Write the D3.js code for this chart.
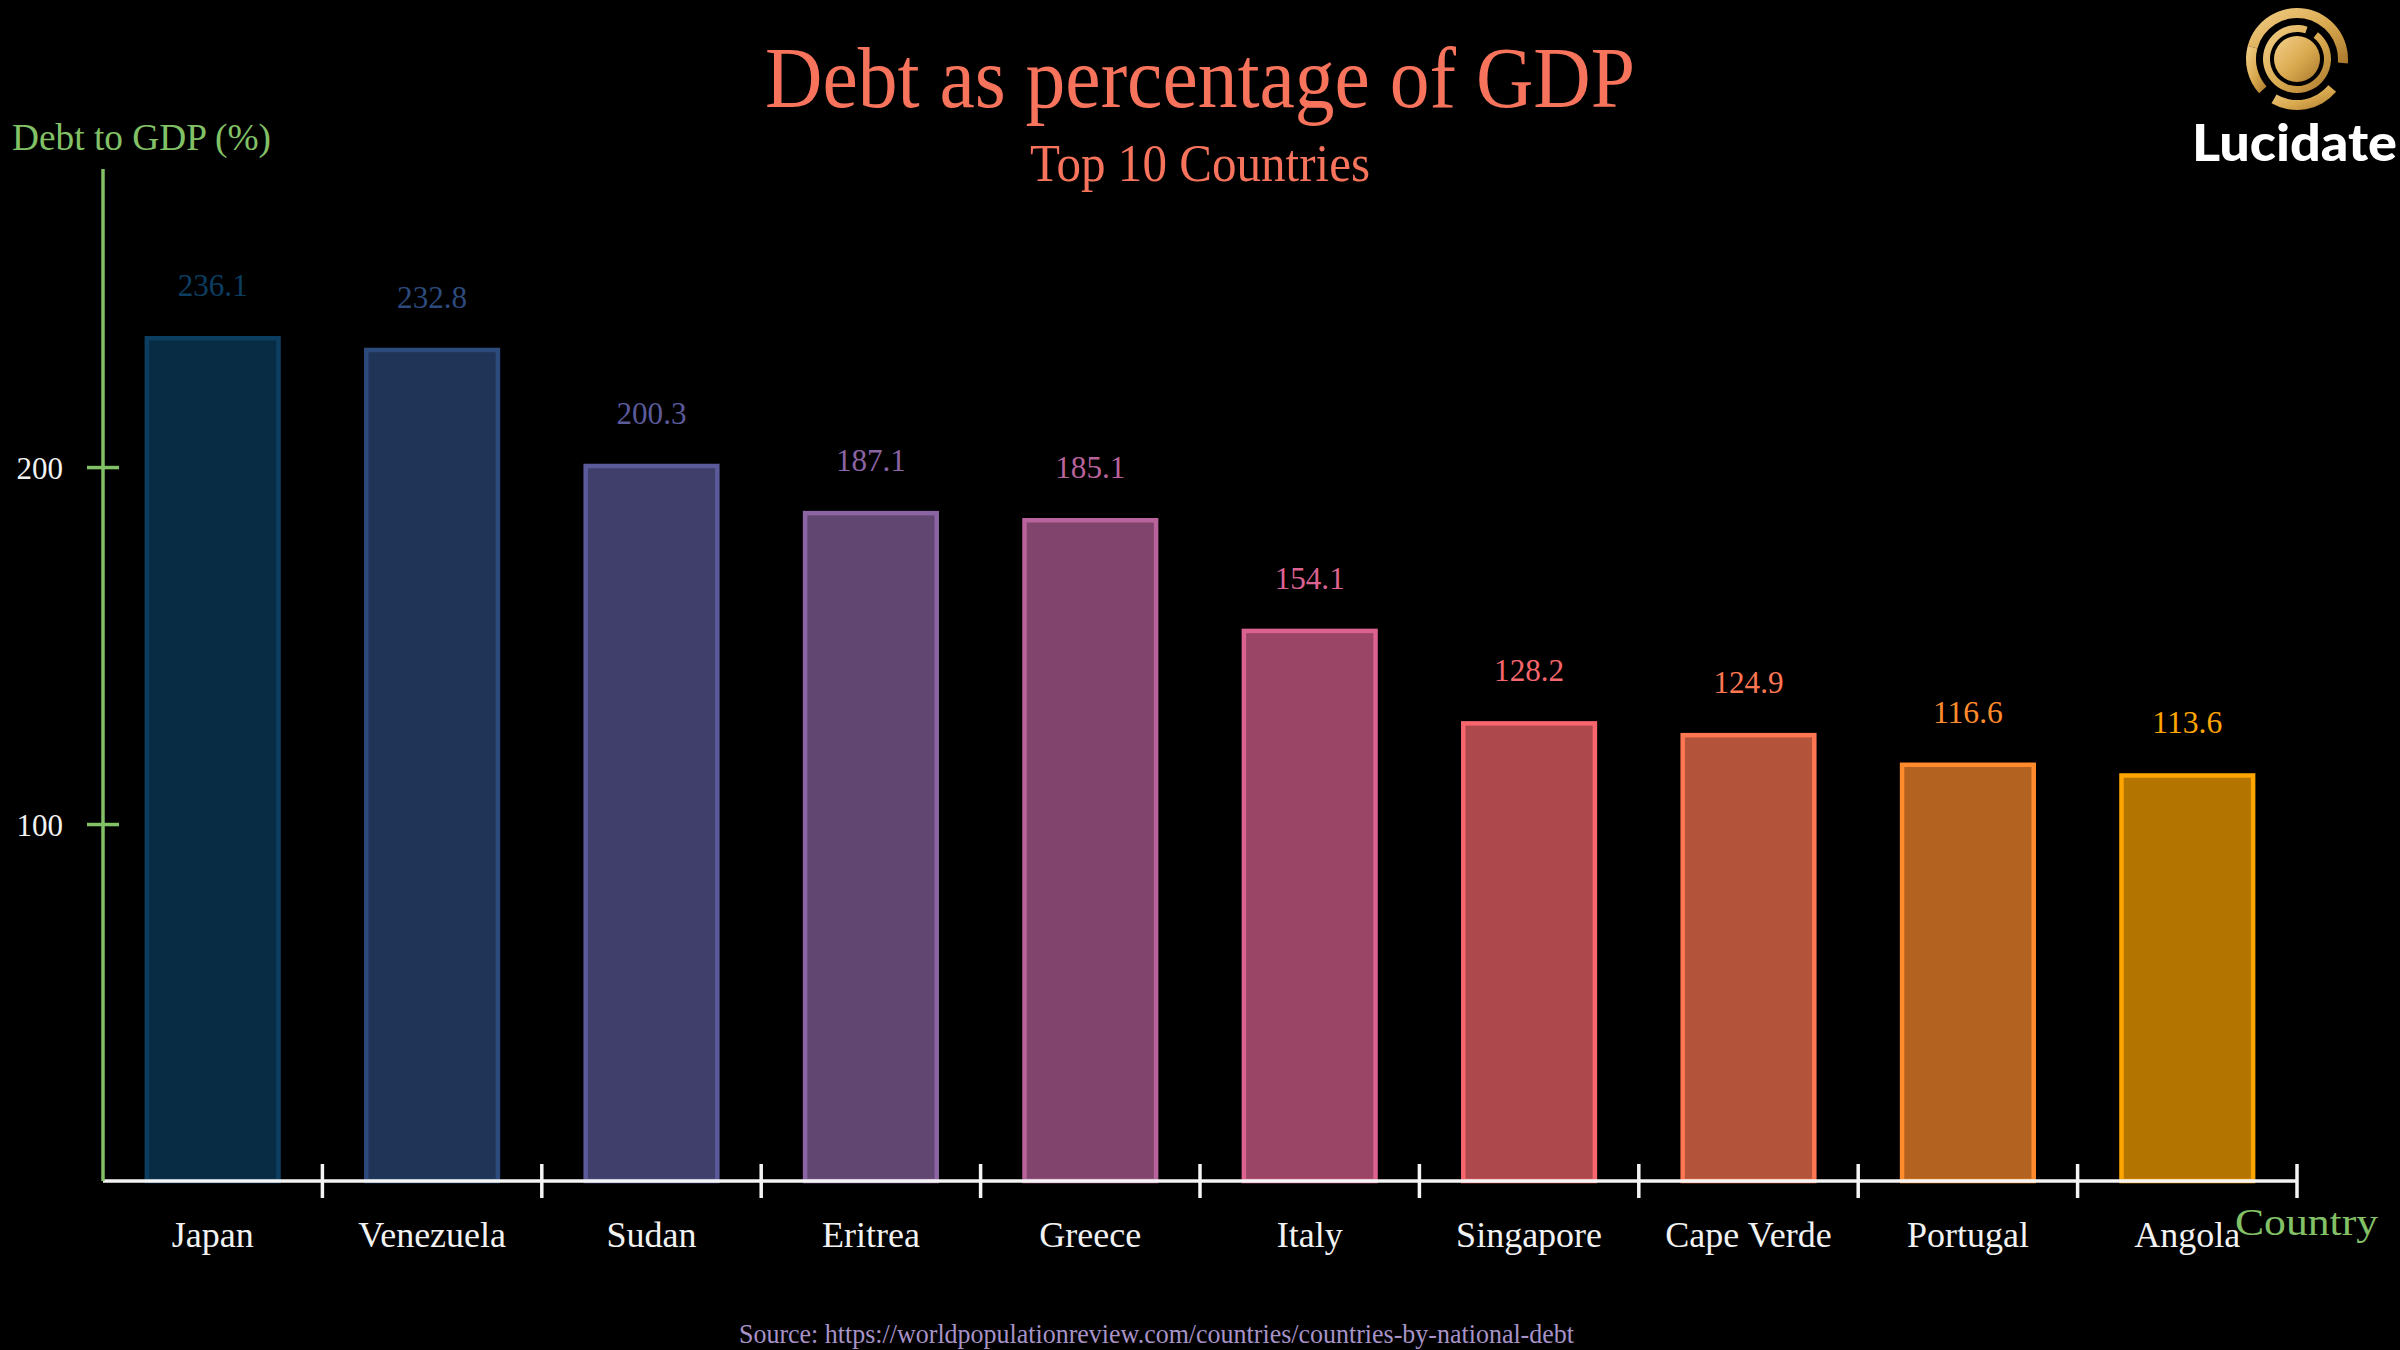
<!DOCTYPE html>
<html>
<head>
<meta charset="utf-8">
<script src="https://cdn.jsdelivr.net/npm/d3@7"></script>
<style>
  html, body { margin: 0; padding: 0; background: #000; }
  svg { display: block; }
  text { font-family: "Liberation Serif", "DejaVu Serif", serif; }
  text.brand { font-family: Lato, "Open Sans", sans-serif; font-weight: 900; }
</style>
</head>
<body>
<div id="chart"></div>
<script>
const countries = ['Japan', 'Venezuela', 'Sudan', 'Eritrea', 'Greece', 'Italy', 'Singapore', 'Cape Verde', 'Portugal', 'Angola'];
const debtPct = [236.1, 232.8, 200.3, 187.1, 185.1, 154.1, 128.2, 124.9, 116.6, 113.6];
const barColors = ['#0b3e61', '#2d4a7c', '#5b5a9a', '#8b64a3', '#b8639b', '#dc6290', '#f7666c', '#ff7653', '#ff8b2c', '#ffa500'];
const yTickValues = [100, 200];

const width = 2400;
const height = 1350;

const usableArea = { left: 103, right: 2297, top: 169, bottom: 1181 };

function drawChart() {
    const data = countries.map((c, i) => ({ country: c, value: debtPct[i], color: barColors[i] }));

    const svg = d3.select('#chart')
        .append('svg')
        .attr('width', width)
        .attr('height', height)
        .attr('viewBox', `0 0 ${width} ${height}`);

    svg.append('rect').attr('width', width).attr('height', height).attr('fill', '#000');

    const xScale = d3.scaleBand()
        .domain(countries)
        .range([usableArea.left, usableArea.right])
        .paddingInner(0.4)
        .paddingOuter(0.2);

    const yScale = d3.scaleLinear()
        .domain([0, 283.5])
        .range([usableArea.bottom, usableArea.top]);

    // bars
    svg.append('g')
        .attr('class', 'bars')
        .selectAll('rect')
        .data(data)
        .join('rect')
        .attr('x', d => xScale(d.country))
        .attr('y', d => yScale(d.value))
        .attr('width', xScale.bandwidth())
        .attr('height', d => yScale(0) - yScale(d.value))
        .attr('fill', d => d.color)
        .attr('fill-opacity', 0.7)
        .attr('stroke', d => d.color)
        .attr('stroke-width', 4.5);

    // value labels
    svg.append('g')
        .attr('class', 'values')
        .selectAll('text')
        .data(data)
        .join('text')
        .attr('x', d => xScale(d.country) + xScale.bandwidth() / 2)
        .attr('y', d => yScale(d.value) - 42)
        .attr('text-anchor', 'middle')
        .attr('font-size', 31)
        .attr('textLength', 70)
        .attr('lengthAdjust', 'spacingAndGlyphs')
        .attr('fill', d => d.color)
        .text(d => d.value.toFixed(1));

    // x axis: labels from the band scale, ticks at band boundaries
    const xAxis = svg.append('g')
        .attr('transform', `translate(0, ${usableArea.bottom})`)
        .call(d3.axisBottom(xScale).tickSize(0));
    xAxis.select('.domain').remove();
    xAxis.selectAll('text')
        .attr('y', 66)
        .attr('dy', 0)
        .attr('font-size', 36)
        .attr('fill', '#f2f2f2');

    svg.append('line')
        .attr('x1', usableArea.left)
        .attr('x2', usableArea.right)
        .attr('y1', usableArea.bottom)
        .attr('y2', usableArea.bottom)
        .attr('stroke', '#f4f4f4')
        .attr('stroke-width', 3.5);

    svg.append('g')
        .selectAll('line')
        .data(countries)
        .join('line')
        .attr('x1', d => xScale(d) + xScale.bandwidth() / 2 + xScale.step() / 2)
        .attr('x2', d => xScale(d) + xScale.bandwidth() / 2 + xScale.step() / 2)
        .attr('y1', usableArea.bottom - 17)
        .attr('y2', usableArea.bottom + 17)
        .attr('stroke', '#f4f4f4')
        .attr('stroke-width', 3.5);

    // y axis
    const yAxis = svg.append('g')
        .attr('transform', `translate(${usableArea.left}, 0)`)
        .call(d3.axisLeft(yScale).tickValues(yTickValues).tickFormat(d3.format('d')));
    yAxis.select('.domain').remove();
    yAxis.selectAll('.tick line')
        .attr('x1', -16)
        .attr('x2', 16)
        .attr('stroke', '#83c167')
        .attr('stroke-width', 3.5);
    yAxis.selectAll('.tick text')
        .attr('x', -40)
        .attr('dy', '0.36em')
        .attr('font-size', 31)
        .attr('fill', '#f2f2f2');

    svg.append('line')
        .attr('x1', usableArea.left)
        .attr('x2', usableArea.left)
        .attr('y1', usableArea.top)
        .attr('y2', usableArea.bottom)
        .attr('stroke', '#83c167')
        .attr('stroke-width', 3.5);

    // axis titles
    svg.append('text')
        .attr('x', 12)
        .attr('y', 150)
        .attr('font-size', 38)
        .attr('textLength', 259)
        .attr('lengthAdjust', 'spacingAndGlyphs')
        .attr('fill', '#83c167')
        .text('Debt to GDP (%)');

    svg.append('text')
        .attr('x', 2235)
        .attr('y', 1235)
        .attr('font-size', 38)
        .attr('textLength', 143)
        .attr('lengthAdjust', 'spacingAndGlyphs')
        .attr('fill', '#83c167')
        .text('Country');

    // titles
    svg.append('text')
        .attr('x', 765)
        .attr('y', 107)
        .attr('font-size', 86)
        .attr('textLength', 870)
        .attr('lengthAdjust', 'spacingAndGlyphs')
        .attr('fill', '#f7735c')
        .text('Debt as percentage of GDP');

    svg.append('text')
        .attr('x', 1030)
        .attr('y', 181)
        .attr('font-size', 52)
        .attr('textLength', 340)
        .attr('lengthAdjust', 'spacingAndGlyphs')
        .attr('fill', '#f7735c')
        .text('Top 10 Countries');

    // source
    svg.append('text')
        .attr('x', 739)
        .attr('y', 1343)
        .attr('font-size', 27)
        .attr('textLength', 835)
        .attr('lengthAdjust', 'spacingAndGlyphs')
        .attr('fill', '#a793c7')
        .text('Source: https://worldpopulationreview.com/countries/countries-by-national-debt');

    drawLogo(svg);
}

function drawLogo(svg) {
    const defs = svg.append('defs');
    const grad = defs.append('linearGradient')
        .attr('id', 'gold')
        .attr('x1', '0%').attr('y1', '0%')
        .attr('x2', '100%').attr('y2', '100%');
    grad.append('stop').attr('offset', '0%').attr('stop-color', '#f3d08a');
    grad.append('stop').attr('offset', '55%').attr('stop-color', '#d9a94f');
    grad.append('stop').attr('offset', '100%').attr('stop-color', '#a9782c');

    const logo = svg.append('g').attr('transform', 'translate(2297, 59)');
    const deg = Math.PI / 180;
    const pieces = [
        { r0: 41, r1: 51, a0: -75, a1: 95 },
        { r0: 41, r1: 51, a0: 130, a1: 210 },
        { r0: 41, r1: 51, a0: 228, a1: 285 },
        { r0: 27, r1: 34, a0: 38, a1: 378 }
    ];
    const arc = d3.arc();
    logo.selectAll('path')
        .data(pieces)
        .join('path')
        .attr('d', d => arc({ innerRadius: d.r0, outerRadius: d.r1, startAngle: d.a0 * deg, endAngle: d.a1 * deg }))
        .attr('fill', 'url(#gold)');
    logo.append('circle').attr('r', 23).attr('fill', 'url(#gold)');

    svg.append('text')
        .attr('class', 'brand')
        .attr('x', 2192)
        .attr('y', 161)
        .attr('font-size', 52)
        .attr('textLength', 205)
        .attr('lengthAdjust', 'spacingAndGlyphs')
        .attr('fill', '#ffffff')
        .text('Lucidate');
}

document.addEventListener('DOMContentLoaded', () => {
    drawChart();
});
</script>
</body>
</html>
